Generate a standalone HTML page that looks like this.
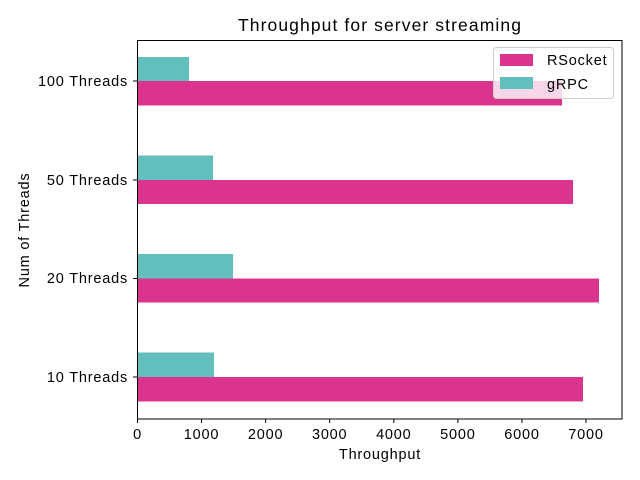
<!DOCTYPE html>
<html><head><style>body{margin:0;background:#fff}svg{display:block}text{font-family:"Liberation Sans",sans-serif;fill:#000}</style></head><body>
<svg width="640" height="480" viewBox="0 0 640 480">
<rect width="640" height="480" fill="#fff"/>
<text x="380" y="31" font-size="17.5" text-anchor="middle" letter-spacing="1.1">Throughput for server streaming</text>
<g fill="#63bfbd">
<rect x="137.5" y="57" width="51.5" height="24"/>
<rect x="137.5" y="155.5" width="75.5" height="24.5"/>
<rect x="137.5" y="254" width="95.5" height="24.5"/>
<rect x="137.5" y="352.5" width="76.5" height="24.5"/>
</g>
<g fill="#db348f">
<rect x="137.5" y="81" width="424.5" height="24.5"/>
<rect x="137.5" y="180" width="435.5" height="24"/>
<rect x="137.5" y="278.5" width="461.5" height="24"/>
<rect x="137.5" y="377" width="445.5" height="24.5"/>
</g>
<rect x="137.5" y="40.5" width="484.5" height="378.5" fill="none" stroke="#000" stroke-width="1"/>
<g stroke="#000" stroke-width="1">
<line x1="133" y1="81" x2="137.5" y2="81"/><line x1="133" y1="180" x2="137.5" y2="180"/>
<line x1="133" y1="278.5" x2="137.5" y2="278.5"/><line x1="133" y1="377" x2="137.5" y2="377"/>
<line x1="137.5" y1="419" x2="137.5" y2="423"/><line x1="201.5" y1="419" x2="201.5" y2="423"/>
<line x1="265.6" y1="419" x2="265.6" y2="423"/><line x1="329.7" y1="419" x2="329.7" y2="423"/>
<line x1="393.8" y1="419" x2="393.8" y2="423"/><line x1="457.9" y1="419" x2="457.9" y2="423"/>
<line x1="522" y1="419" x2="522" y2="423"/><line x1="586" y1="419" x2="586" y2="423"/>
</g>
<g font-size="14.5" text-anchor="end" letter-spacing="0.8">
<text x="128" y="86">100 Threads</text><text x="128" y="185">50 Threads</text>
<text x="128" y="283">20 Threads</text><text x="128" y="382">10 Threads</text>
</g>
<g font-size="14.5" text-anchor="middle" letter-spacing="0.8">
<text x="137.5" y="439">0</text><text x="201.5" y="439">1000</text><text x="265.6" y="439">2000</text>
<text x="329.7" y="439">3000</text><text x="393.8" y="439">4000</text><text x="457.9" y="439">5000</text>
<text x="522" y="439">6000</text><text x="586" y="439">7000</text>
<text x="380" y="459">Throughput</text>
</g>
<text x="29" y="230" font-size="14.5" text-anchor="middle" letter-spacing="0.8" transform="rotate(-90 29 230)">Num of Threads</text>
<rect x="493.5" y="47.5" width="120" height="51" rx="3" fill="#fff" fill-opacity="0.8" stroke="#ccc"/>
<rect x="500" y="54" width="33" height="12" fill="#db348f"/>
<rect x="500" y="77" width="33" height="12" fill="#63bfbd"/>
<text x="547" y="65" font-size="14.5" letter-spacing="0.8">RSocket</text>
<text x="547" y="89" font-size="14.5" letter-spacing="0.8">gRPC</text>
</svg>
</body></html>
